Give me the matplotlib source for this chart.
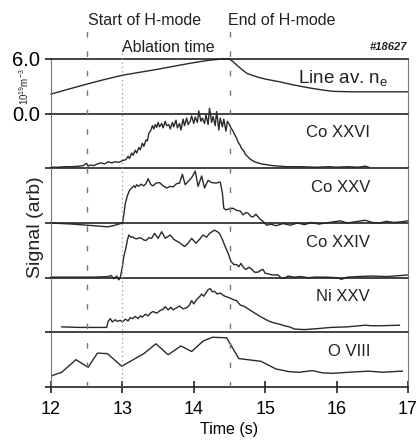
import matplotlib
matplotlib.use("Agg")
import matplotlib.pyplot as plt

plt.rcParams['font.family'] = ['Liberation Sans', 'DejaVu Sans']
plt.rcParams['mathtext.fontset'] = 'custom'
plt.rcParams['mathtext.rm'] = 'Liberation Sans'
plt.rcParams['mathtext.it'] = 'Liberation Sans:italic'

# ---------------- data ----------------
ne_t = [12.0, 12.25, 12.5, 12.75, 13.0, 13.25, 13.5, 13.75, 14.0, 14.2, 14.4, 14.5,
        14.55, 14.6, 14.68, 14.75, 14.9, 15.0, 15.2, 15.4, 15.6, 15.8, 15.95, 16.2,
        16.5, 16.8, 17.0]
ne_v = [2.15, 2.7, 3.24, 3.75, 4.22, 4.55, 4.88, 5.25, 5.6, 5.85, 6.0, 6.0,
        5.7, 5.35, 4.8, 4.4, 4.0, 3.8, 3.5, 3.15, 2.85, 2.6, 2.45, 2.4,
        2.4, 2.4, 2.4]

co26_t = [12.0, 12.1, 12.2, 12.3, 12.4, 12.45, 12.5, 12.52, 12.55, 12.6, 12.65, 12.7,
          12.75, 12.8, 12.85, 12.9, 12.95, 13.0, 13.05, 13.08, 13.1, 13.13, 13.15,
          13.18, 13.2, 13.23, 13.25, 13.28, 13.3, 13.33, 13.35, 13.37, 13.4, 13.42,
          13.44, 13.46, 13.48, 13.5, 13.52, 13.55, 13.57, 13.6, 13.62, 13.65, 13.67,
          13.7, 13.72, 13.75, 13.77, 13.8, 13.82, 13.85, 13.87, 13.9, 13.92, 13.95,
          13.97, 14.0, 14.02, 14.05, 14.07, 14.1, 14.12, 14.15, 14.17, 14.2, 14.22,
          14.25, 14.27, 14.3, 14.32, 14.35, 14.37, 14.4, 14.42, 14.45, 14.47, 14.5,
          14.52, 14.55, 14.57, 14.6, 14.62, 14.65, 14.67, 14.7, 14.72, 14.75, 14.78,
          14.8, 14.85, 14.9, 14.95, 15.0, 15.1, 15.2, 15.3, 15.5, 15.7, 15.9, 16.0,
          16.15, 16.3, 16.4, 16.45]
co26_v = [0.02, 0.02, 0.03, 0.03, 0.04, 0.05, 0.09, 0.04, 0.06, 0.05, 0.08, 0.1,
          0.08, 0.12, 0.1, 0.12, 0.11, 0.14, 0.16, 0.22, 0.18, 0.28, 0.24,
          0.33, 0.28, 0.38, 0.34, 0.46, 0.4, 0.52, 0.5, 0.64, 0.7, 0.78,
          0.72, 0.8, 0.75, 0.84, 0.76, 0.82, 0.74, 0.86, 0.78, 0.8, 0.72,
          0.84, 0.76, 0.88, 0.74, 0.82, 0.7, 0.9, 0.78, 0.92, 0.8, 0.86,
          0.96, 0.82, 0.94, 0.84, 1.05, 0.86, 0.92, 0.82, 0.98, 0.8, 1.1,
          0.84, 0.95, 0.78, 1.04, 0.7, 0.92, 0.76, 0.9, 0.68, 0.86, 0.8,
          0.74, 0.68, 0.62, 0.55, 0.48, 0.42, 0.36, 0.32, 0.26, 0.22, 0.18,
          0.16, 0.12, 0.1, 0.08, 0.07, 0.05, 0.04, 0.03, 0.03, 0.02, 0.03, 0.02,
          0.03, 0.02, 0.04, 0.02]

co25_t = [12.0, 12.3, 12.6, 12.8, 12.9, 12.95, 13.0, 13.02, 13.04, 13.07, 13.1, 13.13,
          13.16, 13.18, 13.2, 13.23, 13.26, 13.3, 13.33, 13.36, 13.4, 13.43, 13.47,
          13.52, 13.57, 13.62, 13.67, 13.71, 13.76, 13.8, 13.84, 13.88, 13.92, 13.97,
          14.02, 14.06, 14.11, 14.15, 14.2, 14.25, 14.31, 14.37, 14.4, 14.42, 14.45,
          14.5, 14.55, 14.6, 14.65, 14.69, 14.73, 14.76, 14.8, 14.83, 14.87, 14.92,
          14.96, 15.02, 15.08, 15.15, 15.25, 15.35, 15.45, 15.55, 15.65, 15.75, 15.85,
          15.95, 16.05, 16.15, 16.3, 16.4, 16.5, 16.6, 16.7, 16.8, 16.9, 17.0]
co25_v = [0.0, -0.02, -0.05, -0.07, -0.04, -0.02, 0.0, 0.15, 0.35, 0.5, 0.6, 0.64,
          0.68, 0.65, 0.7, 0.67, 0.71, 0.68, 0.72, 0.81, 0.7, 0.68, 0.73,
          0.74, 0.68, 0.64, 0.67, 0.66, 0.72, 0.73, 0.89, 0.7, 0.76, 0.83,
          0.95, 0.67, 0.86, 0.64, 0.78, 0.74, 0.73, 0.75, 0.55, 0.27, 0.24,
          0.26, 0.27, 0.23, 0.22, 0.15, 0.19, 0.18, 0.12, 0.11, 0.16, 0.08,
          0.04, -0.04, -0.02, -0.05, -0.01, -0.04, 0.0, -0.03, 0.01, -0.02, 0.0,
          0.02, 0.04, 0.0, 0.03, 0.05, 0.01, 0.0, 0.03, 0.01, 0.02, 0.04]

co24_t = [12.0, 12.3, 12.6, 12.8, 12.84, 12.88, 12.92, 12.95, 12.97, 13.0, 13.02, 13.05,
          13.07, 13.09, 13.12, 13.14, 13.17, 13.2, 13.24, 13.27, 13.3, 13.33, 13.37,
          13.41, 13.45, 13.5, 13.55, 13.6, 13.67, 13.72, 13.8, 13.87, 13.92, 13.97,
          14.03, 14.08, 14.13, 14.18, 14.22, 14.29, 14.33, 14.36, 14.4, 14.43, 14.48,
          14.52, 14.56, 14.6, 14.63, 14.66, 14.7, 14.73, 14.77, 14.8, 14.85, 14.9,
          14.94, 14.97, 15.0, 15.04, 15.1, 15.18, 15.22, 15.27, 15.32, 15.4, 15.5,
          15.6, 15.7, 15.85, 16.0, 16.07, 16.15, 16.3, 16.5, 16.7, 17.0]
co24_v = [0.01, 0.01, 0.01, 0.02, 0.04, -0.02, 0.03, -0.04, 0.0, 0.2, 0.39, 0.55,
          0.69, 0.78, 0.74, 0.75, 0.72, 0.71, 0.73, 0.72, 0.69, 0.68, 0.73,
          0.72, 0.81, 0.72, 0.84, 0.72, 0.78, 0.7, 0.64, 0.57, 0.63, 0.72,
          0.63, 0.7, 0.78, 0.74, 0.81, 0.87, 0.84, 0.81, 0.7, 0.6, 0.45,
          0.3, 0.24, 0.24, 0.2, 0.26, 0.18, 0.15, 0.19, 0.17, 0.1, 0.1,
          0.14, 0.15, 0.08, 0.07, 0.05, 0.05, 0.0, -0.01, 0.03, 0.01, 0.02,
          0.0, 0.01, 0.01, 0.0, -0.03, 0.01, 0.02, 0.03, 0.02, 0.05]

ni25_t = [12.15, 12.4, 12.6, 12.78, 12.8, 12.83, 12.86, 12.9, 12.93, 12.97, 13.0, 13.04,
          13.08, 13.11, 13.14, 13.18, 13.22, 13.25, 13.28, 13.32, 13.36, 13.4, 13.43,
          13.48, 13.53, 13.57, 13.6, 13.64, 13.68, 13.71, 13.76, 13.8, 13.85, 13.9,
          13.94, 13.97, 14.0, 14.04, 14.08, 14.11, 14.14, 14.17, 14.2, 14.23, 14.26,
          14.29, 14.33, 14.37, 14.42, 14.46, 14.5, 14.55, 14.6, 14.65, 14.7, 14.76,
          14.82, 14.88, 14.93, 15.0, 15.06, 15.13, 15.2, 15.27, 15.34, 15.41, 15.55,
          15.75, 15.92, 16.15, 16.4, 16.5, 16.6, 16.88]
ni25_v = [0.1, 0.09, 0.09, 0.09, 0.2, 0.25, 0.19, 0.23, 0.2, 0.22, 0.19, 0.24,
          0.21, 0.27, 0.25, 0.29, 0.25, 0.3, 0.28, 0.33, 0.3, 0.36, 0.38,
          0.35, 0.4, 0.42, 0.47, 0.41, 0.46, 0.41, 0.45, 0.48, 0.43, 0.45,
          0.5, 0.58, 0.52, 0.6, 0.65, 0.7, 0.66, 0.72, 0.78, 0.8, 0.74,
          0.75, 0.7, 0.72, 0.67, 0.65, 0.63, 0.6, 0.58, 0.5, 0.48, 0.43,
          0.38, 0.33, 0.29, 0.24, 0.2, 0.17, 0.15, 0.12, 0.1, 0.06, 0.05,
          0.07, 0.09, 0.1, 0.13, 0.12, 0.12, 0.13]

o8_t = [12.02, 12.15, 12.35, 12.52, 12.65, 12.79, 12.99, 13.3, 13.47, 13.64, 13.82,
        13.97, 14.13, 14.26, 14.46, 14.63, 14.94, 15.15, 15.34, 15.48, 15.66, 15.8,
        15.94, 16.17, 16.45, 16.64, 16.92]
o8_v = [0.21, 0.27, 0.5, 0.36, 0.62, 0.61, 0.38, 0.61, 0.79, 0.59, 0.75,
        0.65, 0.84, 0.91, 0.9, 0.52, 0.47, 0.33, 0.28, 0.27, 0.3, 0.26,
        0.25, 0.27, 0.29, 0.27, 0.29]

panel_labels = ["Line av. n$_\\mathrm{e}$", "Co XXVI", "Co XXV", "Co XXIV", "Ni XXV", "O VIII"]
series_t = [ne_t, co26_t, co25_t, co24_t, ni25_t, o8_t]
series_v = [ne_v, co26_v, co25_v, co24_v, ni25_v, o8_v]
x_ticks = [12, 13, 14, 15, 16, 17]
event_times = [12.5, 13.0, 14.5]
event_labels = ["Start of H-mode", "Ablation time", "End of H-mode"]

# ---------------- layout ----------------
W, H = 417, 445
fig = plt.figure(figsize=(W / 100, H / 100), dpi=100)
left_px, right_px = 51, 408
top_px, bot_px = 59, 387
n = 6
ph = (bot_px - top_px) / n
line_col = '#2a2a2a'

axes = []
for i in range(n):
    y_top = top_px + i * ph
    ax = fig.add_axes([left_px / W, 1 - (y_top + ph) / H, (right_px - left_px) / W, ph / H])
    ax.set_facecolor('none')
    ax.set_xlim(12, 17)
    if i == 0:
        ax.set_ylim(0, 6)
    else:
        ax.set_ylim(0, 1)
    ax.plot(series_t[i], series_v[i], color=line_col, lw=1.0, clip_on=False)
    for s in ['left', 'right']:
        ax.spines[s].set_color('#777777')
        ax.spines[s].set_linewidth(0.8)
    ax.spines['top'].set_visible(i == 0)
    ax.spines['top'].set_color('#222222')
    ax.spines['top'].set_linewidth(1.2)
    ax.spines['bottom'].set_color('#222222')
    ax.spines['bottom'].set_linewidth(1.2)
    if i == 0:
        ax.set_yticks([0, 6])
        ax.set_yticklabels(["0.0", "6.0"], fontsize=14.5)
    else:
        ax.set_yticks([0])
        ax.set_yticklabels([])
    ax.tick_params(axis='y', direction='out', length=4, width=1.2, color='#222222', pad=4)
    if i < n - 1:
        ax.set_xticks([])
    else:
        ax.set_xticks(x_ticks)
        ax.set_xticklabels([str(v) for v in x_ticks], fontsize=13)
        ax.tick_params(axis='x', direction='inout', length=8, width=1.2, color='#222222', pad=6)
        ax.set_xlabel("Time (s)", fontsize=11.5, labelpad=3)
    if i == 0:
        ax.text(16.72, 0.57 * 6, panel_labels[i], ha='right', va='baseline',
                fontsize=13.5, color='#222222')
    else:
        ax.text(16.47, 0.57, panel_labels[i], ha='right', va='baseline',
                fontsize=12, color='#222222')
    axes.append(ax)

# overlay for event lines
ov_top_px = 20
ov = fig.add_axes([left_px / W, 1 - bot_px / H, (right_px - left_px) / W, (bot_px - ov_top_px) / H])
ov.set_xlim(12, 17)
ov.set_ylim(bot_px, ov_top_px)
ov.axis('off')
ov.set_facecolor('none')
ov.vlines(event_times[0], bot_px, 28, colors='#777777', lw=1.0, linestyles=(0, (4, 10)))
ov.vlines(event_times[2], bot_px, 28, colors='#777777', lw=1.0, linestyles=(0, (4, 10)))
ov.vlines(event_times[1], bot_px, 45, colors='#999999', lw=0.9, linestyles=(0, (1, 2.5)))

fig.text(88 / W, 1 - 25 / H, event_labels[0], fontsize=11.5, ha='left', va='baseline', color='#222222')
fig.text(122 / W, 1 - 52 / H, event_labels[1], fontsize=11.5, ha='left', va='baseline', color='#222222')
fig.text(228 / W, 1 - 25 / H, event_labels[2], fontsize=11.5, ha='left', va='baseline', color='#222222')
fig.text(407 / W, 1 - 50 / H, "#18627", fontsize=8, ha='right', va='baseline',
         style='italic', weight='bold', color='#222222')

fig.text(35 / W, 1 - 227 / H, "Signal (arb)", rotation=90, fontsize=14, ha='center', va='center', color='#222222')
fig.text(24 / W, 1 - 87 / H, "10$^{19}$m$^{-3}$", rotation=90, fontsize=7, ha='center', va='center', color='#222222')

fig.savefig("out.png", dpi=100)
